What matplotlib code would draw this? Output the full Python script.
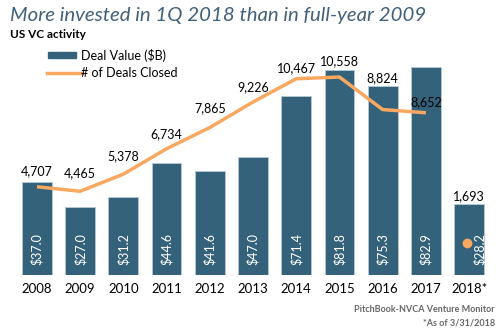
import numpy as np
import matplotlib.pyplot as plt
from matplotlib.lines import Line2D
from matplotlib.patches import Rectangle

plt.rcParams['font.family'] = ['Lato', 'DejaVu Sans']

years = ['2008', '2009', '2010', '2011', '2012', '2013', '2014', '2015', '2016', '2017', '2018*']
deal_value = [37.0, 27.0, 31.2, 44.6, 41.6, 47.0, 71.4, 81.8, 75.3, 82.9, 28.2]
deals_closed = [4707, 4465, 5378, 6734, 7865, 9226, 10467, 10558, 8824, 8652]
deals_2018 = 1693
# how far each count label sits above its point (pixels)
label_lift = [16, 18, 18, 15, 19, 15, 11, 16, 31, 11]

bar_color = '#34627A'
line_color = '#F8A860'
W, H = 501, 331

fig = plt.figure(figsize=(5.01, 3.31), dpi=100)
ax = fig.add_axes([11 / W, 1 - 275 / H, 484 / W, 235 / H])
x = np.arange(len(years))
ax.bar(x, deal_value, width=0.69, color=bar_color, edgecolor='#B8C8D2', linewidth=0.6)
ax.set_xlim(-0.6, 10.6)
ax.set_ylim(0, 235 / 2.51)
for i, v in enumerate(deal_value):
    xo = i + (0.24 if i == 10 else 0)
    ax.text(xo, 3.8, f'${v:.1f}', rotation=90, color='white', fontsize=9,
            ha='center', va='bottom')

ax2 = ax.twinx()
ax2.set_ylim(0, 235 / 0.01875)
ax2.plot(x[:10], deals_closed, color=line_color, lw=2.5, solid_capstyle='butt')
ax2.plot([10 - 0.05], [deals_2018], 'o', color=line_color, ms=6)
for i, v in enumerate(deals_closed):
    ax2.annotate(f'{v:,}', (i, v), xytext=(0, label_lift[i] * 0.72), textcoords='offset points',
                 fontsize=9, ha='center', va='center', color='black')
ax2.annotate(f'{deals_2018:,}', (10, deal_value[10] * 133.9), xytext=(0, 8 * 0.72),
             textcoords='offset points', fontsize=9, ha='center', va='center', color='black')

for a in (ax, ax2):
    for s in a.spines.values():
        s.set_visible(False)
    a.set_yticks([])
ax.set_xticks(x)
ax.set_xticklabels(years, fontsize=9.5)
ax.tick_params(axis='x', length=0, pad=6)

fig.text(10 / W, 1 - 15 / H, 'More invested in 1Q 2018 than in full-year 2009',
         fontsize=14.7, style='italic', color='#41607A', va='center', ha='left')
fig.text(10 / W, 1 - 34 / H, 'US VC activity', fontsize=8.5, fontweight='bold',
         va='center', ha='left')

# legend drawn by hand
fig.patches.append(Rectangle((48 / W, 1 - 58 / H), 28 / W, 6 / H, color=bar_color,
                             transform=fig.transFigure))
fig.lines.append(Line2D([47 / W, 82 / W], [1 - 73 / H, 1 - 73 / H], color=line_color, lw=2.5,
                        transform=fig.transFigure))
fig.text(81 / W, 1 - 55 / H, 'Deal Value ($B)', fontsize=9, va='center', ha='left')
fig.text(81 / W, 1 - 73 / H, '# of Deals Closed', fontsize=9, va='center', ha='left')

fig.text(495 / W, 1 - 310 / H, 'PitchBook-NVCA Venture Monitor', fontsize=6.5,
         fontweight='bold', color='#666666', ha='right', va='center')
fig.text(495 / W, 1 - 323 / H, '*As of 3/31/2018', fontsize=6.5,
         fontweight='bold', color='#666666', ha='right', va='center')

fig.savefig('out.png', dpi=100)
